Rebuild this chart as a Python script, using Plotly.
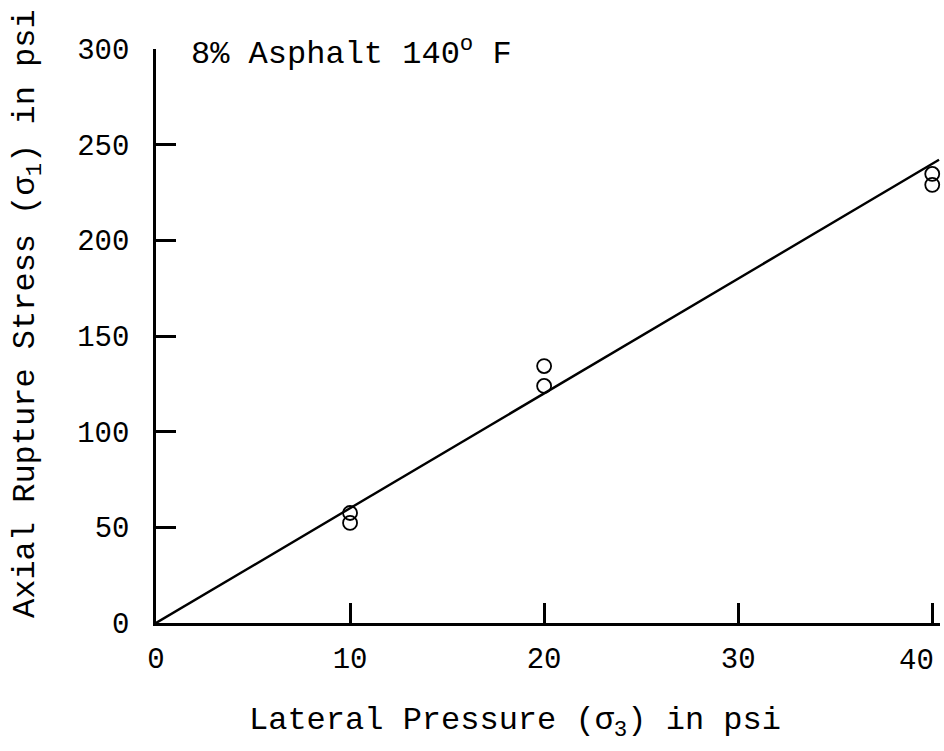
import plotly.graph_objects as go

# Data
lateral_pressure = [10, 10, 20, 20, 40, 40]
axial_stress = [57.5, 52.3, 134.3, 123.9, 234.7, 229.0]
fit_x = [0, 40.35]
fit_y = [0, 242.1]
x_ticks = [0, 10, 20, 30, 40]
x_ticktext = ["0", "10", "20", "30", ""]
y_ticks = [0, 50, 100, 150, 200, 250, 300]

FONT = "Liberation Mono, Courier New, monospace"
TICK = dict(family=FONT, size=29, color="black")
BIG = dict(family=FONT, size=32, color="black")

L, R, T, B = 156, 4, 49, 128
W, H = 944, 751
pw, ph = W - L - R, H - T - B

fig = go.Figure()
fig.add_trace(go.Scatter(x=fit_x, y=fit_y, mode="lines",
                         line=dict(color="black", width=2.4), showlegend=False,
                         cliponaxis=False))
fig.add_trace(go.Scatter(x=lateral_pressure, y=axial_stress, mode="markers",
                         marker=dict(symbol="circle-open", size=14,
                                     color="black", line=dict(width=1.8)),
                         showlegend=False, cliponaxis=False))

# chart label
fig.add_annotation(x=0, y=300, xref="x", yref="y", xanchor="left", yanchor="middle",
                   xshift=33, yshift=-3,
                   text="8% Asphalt 140<sup>o</sup> F", showarrow=False, font=BIG)

# last x tick label, kept inside the page
fig.add_annotation(x=x_ticks[-1], y=0, xref="x", yref="y", xanchor="right", yanchor="top",
                   xshift=4, yshift=-20, text=str(x_ticks[-1]), showarrow=False, font=TICK)

# axis titles
fig.add_annotation(x=(515 - L) / pw, y=(H - B - 722) / ph, xref="paper", yref="paper",
                   xanchor="center", yanchor="middle", showarrow=False,
                   text="Lateral Pressure (σ<sub>3</sub>) in psi", font=BIG)
fig.add_annotation(x=(27 - L) / pw, y=(H - B - 314) / ph, xref="paper", yref="paper",
                   xanchor="center", yanchor="middle", showarrow=False, textangle=-90,
                   text="Axial Rupture Stress (σ<sub>1</sub>) in psi", font=BIG)

fig.update_layout(
    width=W, height=H,
    margin=dict(l=L, r=R, t=T, b=B),
    plot_bgcolor="white", paper_bgcolor="white",
    font=dict(family=FONT, size=29, color="black"),
    xaxis=dict(range=[0, 40.4], tickvals=x_ticks, ticktext=x_ticktext,
               ticks="inside", ticklen=20,
               tickwidth=2.5, tickcolor="black", showline=True, linecolor="black",
               linewidth=2.5, showgrid=False, zeroline=False, tickfont=TICK,
               ticklabelstandoff=7),
    yaxis=dict(range=[0, 300], tickvals=y_ticks, ticks="inside", ticklen=20,
               tickwidth=2.5, tickcolor="black", showline=True, linecolor="black",
               linewidth=2.5, showgrid=False, zeroline=False, tickfont=TICK,
               ticklabelstandoff=18),
)

fig.write_html("out.html")
